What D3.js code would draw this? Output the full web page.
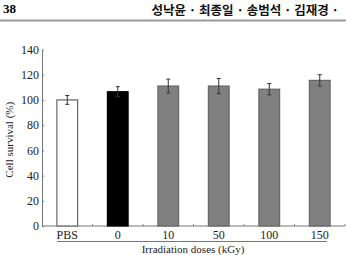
<!DOCTYPE html>
<html>
<head>
<meta charset="utf-8">
<script src="https://cdn.jsdelivr.net/npm/d3@7"></script>
<style>
  body { margin: 0; background: #fff; }
  svg { display: block; }
  .tick text { font-family: "Liberation Serif", serif; font-size: 12px; fill: #222; }
</style>
</head>
<body>
<div id="viz"></div>
<script>
const categories = ["PBS", "0", "10", "50", "100", "150"];
const survival = [100, 106.5, 111, 111, 108.5, 115.5];
const errors = [3.5, 4, 5.5, 6, 4.5, 4.5];
const fills = ["#ffffff", "#000000", "#808080", "#808080", "#808080", "#808080"];
const yTicks = [0, 20, 40, 60, 80, 100, 120, 140];

const width = 346;
const height = 255;
const margin = { top: 49.5, right: 1, bottom: 29, left: 42 };

const svg = d3.select("#viz")
  .append("svg")
  .attr("width", width)
  .attr("height", height);

// page header
svg.append("text")
  .attr("x", 3).attr("y", 13)
  .style("font-family", "Liberation Serif, serif")
  .style("font-weight", "bold")
  .style("font-size", "13px")
  .text("38");
svg.append("text")
  .attr("x", 339).attr("y", 15)
  .attr("text-anchor", "end")
  .style("font-family", "'Noto Sans CJK KR', sans-serif")
  .style("font-weight", "bold")
  .style("font-size", "12.5px")
  .style("fill", "#111")
  .text("성낙윤 · 최종일 · 송범석 · 김재경 ·");
svg.append("rect")
  .attr("x", 0).attr("y", 19.5)
  .attr("width", width).attr("height", 2)
  .attr("fill", "#9a9a9a");

const x = d3.scaleBand()
  .domain(categories)
  .range([margin.left, width - margin.right])
  .paddingInner(0.59)
  .paddingOuter(0.295);

const y = d3.scaleLinear()
  .domain([0, 140])
  .range([height - margin.bottom, margin.top]);

// y axis
const yAxis = svg.append("g")
  .attr("transform", "translate(" + margin.left + ",0)")
  .call(d3.axisRight(y).tickValues(yTicks).tickSize(2).tickSizeOuter(0));
yAxis.select(".domain").attr("stroke", "#777");
yAxis.selectAll(".tick line").attr("stroke", "#777");
yAxis.selectAll(".tick text")
  .attr("x", -3)
  .attr("text-anchor", "end");

// x axis: ticks at band boundaries
const bounds = categories.map(c => x(c) - x.step() * x.paddingInner() / 2).slice(1)
  .concat([width - margin.right]);
svg.append("line")
  .attr("x1", margin.left).attr("x2", width - margin.right)
  .attr("y1", y(0)).attr("y2", y(0))
  .attr("stroke", "#777");
svg.selectAll(".xtick")
  .data(bounds)
  .enter()
  .append("line")
  .attr("x1", d => d).attr("x2", d => d)
  .attr("y1", y(0)).attr("y2", y(0) - 2)
  .attr("stroke", "#888");

svg.selectAll(".xlabel")
  .data(categories)
  .enter()
  .append("text")
  .attr("x", d => x(d) + x.bandwidth() / 2)
  .attr("y", y(0) + 13)
  .attr("text-anchor", "middle")
  .style("font-family", "Liberation Serif, serif")
  .style("font-size", "12px")
  .style("fill", "#222")
  .text(d => d);

// underline and axis title
svg.append("line")
  .attr("x1", x("PBS")).attr("x2", x("150") + x.bandwidth() - 3)
  .attr("y1", y(0) + 15.5).attr("y2", y(0) + 15.5)
  .attr("stroke", "#777");
svg.append("text")
  .attr("x", 193).attr("y", 253)
  .attr("text-anchor", "middle")
  .style("font-family", "Liberation Serif, serif")
  .style("font-size", "11px")
  .style("fill", "#222")
  .text("Irradiation doses (kGy)");

svg.append("text")
  .attr("transform", "translate(13," + (y(70) + 2) + ") rotate(-90)")
  .attr("text-anchor", "middle")
  .style("font-family", "Liberation Serif, serif")
  .style("font-size", "11px")
  .style("fill", "#222")
  .text("Cell survival (%)");

// bars
svg.selectAll(".bar")
  .data(categories)
  .enter()
  .append("rect")
  .attr("x", d => x(d))
  .attr("y", (d, i) => y(survival[i]))
  .attr("width", x.bandwidth())
  .attr("height", (d, i) => y(0) - y(survival[i]))
  .attr("fill", (d, i) => fills[i])
  .attr("stroke", (d, i) => i === 1 ? "#000" : "#666")
  .attr("stroke-width", 1.2);

// error bars
const errG = svg.selectAll(".err")
  .data(categories)
  .enter()
  .append("g")
  .attr("stroke", "#333")
  .attr("stroke-width", 1);
errG.append("line")
  .attr("x1", d => x(d) + x.bandwidth() / 2)
  .attr("x2", d => x(d) + x.bandwidth() / 2)
  .attr("y1", (d, i) => y(survival[i] + errors[i]))
  .attr("y2", (d, i) => y(survival[i] - errors[i]));
[1, -1].forEach(s => {
  errG.append("line")
    .attr("x1", d => x(d) + x.bandwidth() / 2 - 2)
    .attr("x2", d => x(d) + x.bandwidth() / 2 + 2)
    .attr("y1", (d, i) => y(survival[i] + s * errors[i]))
    .attr("y2", (d, i) => y(survival[i] + s * errors[i]));
});
</script>
</body>
</html>
